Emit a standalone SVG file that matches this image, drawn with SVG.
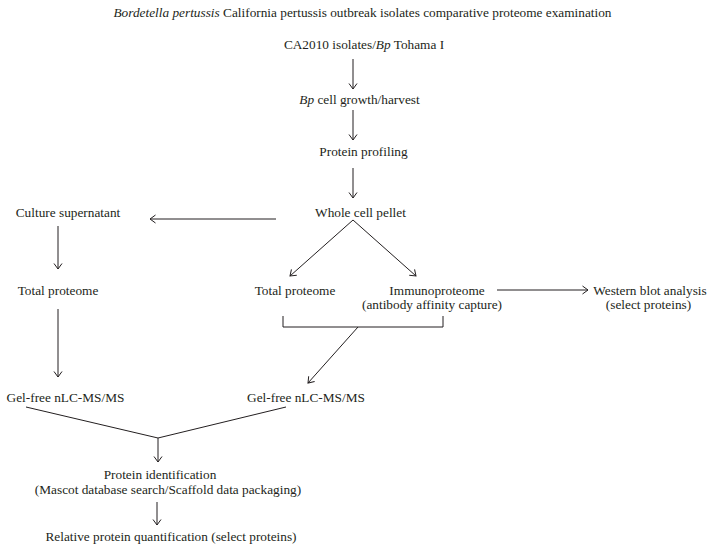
<svg xmlns="http://www.w3.org/2000/svg" width="714" height="552" viewBox="0 0 714 552">
<style>
text{font-family:"Liberation Serif","Times New Roman",serif;font-size:13.3px;fill:#231f20;text-anchor:middle}
.i{font-style:italic}
.c line,.c path,.c polyline{stroke:#231f20;stroke-width:1;fill:none}
</style>
<defs>
<marker id="a" markerUnits="userSpaceOnUse" markerWidth="12" markerHeight="12" viewBox="-8 -6 10 12" refX="0" refY="0" orient="auto">
<path d="M-5.5,-4 L0,0 L-5.5,4" fill="none" stroke="#231f20" stroke-width="1"/>
</marker>
</defs>
<rect width="714" height="552" fill="#fff"/>
<g id="title"><text x="362.5" y="17"><tspan class="i">Bordetella pertussis</tspan> California pertussis outbreak isolates comparative proteome examination</text></g>
<g id="n-ca2010"><text x="364" y="49">CA2010 isolates/<tspan class="i">Bp</tspan> Tohama I</text></g>
<g id="n-growth"><text x="359.5" y="104"><tspan class="i">Bp</tspan> cell growth/harvest</text></g>
<g id="n-profiling"><text x="363.5" y="156">Protein profiling</text></g>
<g id="n-pellet"><text x="360.5" y="217">Whole cell pellet</text></g>
<g id="n-supernatant"><text x="68" y="217">Culture supernatant</text></g>
<g id="n-total-left"><text x="58" y="295">Total proteome</text></g>
<g id="n-total-mid"><text x="295" y="295">Total proteome</text></g>
<g id="n-immuno"><text x="437" y="295">Immunoproteome</text><text x="432" y="309">(antibody affinity capture)</text></g>
<g id="n-western"><text x="650" y="295">Western blot analysis</text><text x="648.5" y="309">(select proteins)</text></g>
<g id="n-gel-left"><text x="65.5" y="402">Gel-free nLC-MS/MS</text></g>
<g id="n-gel-right"><text x="306" y="402">Gel-free nLC-MS/MS</text></g>
<g id="n-identification"><text x="160" y="479">Protein identification</text><text x="168" y="494">(Mascot database search/Scaffold data packaging)</text></g>
<g id="n-quant"><text x="171" y="541">Relative protein quantification (select proteins)</text></g>
<g id="connectors" class="c">
<line x1="353" y1="59" x2="353" y2="89" marker-end="url(#a)"/>
<line x1="353" y1="110" x2="353" y2="140" marker-end="url(#a)"/>
<line x1="353" y1="168" x2="353" y2="198" marker-end="url(#a)"/>
<line x1="276" y1="219" x2="150" y2="219" marker-end="url(#a)"/>
<line x1="58" y1="226" x2="58" y2="269" marker-end="url(#a)"/>
<line x1="353" y1="220" x2="290" y2="276" marker-end="url(#a)"/>
<line x1="353" y1="220" x2="416" y2="276" marker-end="url(#a)"/>
<line x1="497" y1="290" x2="588" y2="290" marker-end="url(#a)"/>
<line x1="58" y1="309" x2="58" y2="377" marker-end="url(#a)"/>
<polyline points="283,316 283,327 443,327 443,316"/>
<line x1="358" y1="327" x2="308" y2="383" marker-end="url(#a)"/>
<polyline points="26,407 158,438 286,407"/>
<line x1="158" y1="438" x2="158" y2="462" marker-end="url(#a)"/>
<line x1="157" y1="502" x2="157" y2="525" marker-end="url(#a)"/>
</g>
</svg>
